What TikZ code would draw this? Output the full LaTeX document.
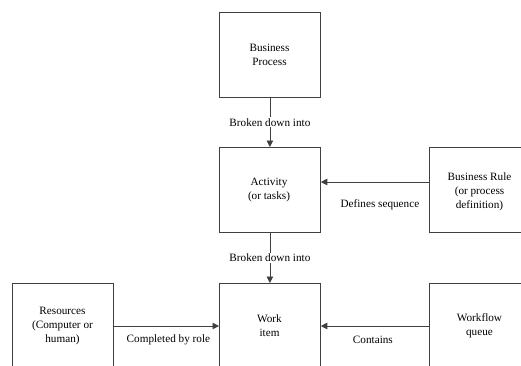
\documentclass[tikz,border=0pt]{standalone}
\usepackage{fontspec}
\setmainfont{Liberation Serif}
\usetikzlibrary{arrows.meta}
\begin{document}
\begin{tikzpicture}[x=1pt,y=-1pt,
  box/.style={draw=black!75, line width=0.8pt, minimum width=101pt, minimum height=85pt, inner sep=0pt, anchor=north west},
  boxtxt/.style={align=center, font=\fontsize{11.2}{14}\selectfont, inner sep=0pt},
  lbl/.style={font=\fontsize{11.2}{14}\selectfont, inner sep=1pt},
  conn/.style={draw=black!75, line width=0.8pt, -{Triangle[length=6.5pt,width=6.5pt]}}]
\useasboundingbox (0,0) rectangle (521,365);
\clip (0,0) rectangle (521,365);
% boxes
\node[box] (bp) at (219,12) {};
\node[boxtxt] (bpt) at (269.5,54.5) {Business\\Process};
\node[box] (act) at (219,147) {};
\node[boxtxt] (actt) at (269,190) {Activity\\(or tasks)};
\node[box, minimum width=91.5pt] (br) at (429,147) {};
\node[boxtxt] (brt) at (479.5,191.5) {Business Rule\\(or process\\definition)};
\node[box] (wi) at (219,283) {};
\node[boxtxt] (wit) at (269.5,326) {Work\\item};
\node[box] (res) at (12,283) {};
\node[boxtxt] (rest) at (62.5,326) {Resources\\(Computer or\\human)};
\node[box] (wq) at (429,283) {};
\node[boxtxt] (wqt) at (479.5,326) {Workflow\\queue};
% connectors
\draw[conn] (bp.south) -- node[lbl, fill=white] {Broken down into} (act.north);
\draw[conn] (act.south) -- node[lbl, fill=white] {Broken down into} (wi.north);
\draw[conn] (br.west |- 0,182) coordinate (brl) -- node[lbl, yshift=-23pt, xshift=5pt] {Defines sequence} (act.east |- brl);
\draw[conn] (res.east |- 0,326) coordinate (resr) -- node[lbl, yshift=-14pt, xshift=2pt] {Completed by role} (wi.west |- resr);
\draw[conn] (wq.west |- 0,326) coordinate (wql) -- node[lbl, yshift=-14pt, xshift=-2pt] {Contains} (wi.east |- wql);
\end{tikzpicture}
\end{document}
